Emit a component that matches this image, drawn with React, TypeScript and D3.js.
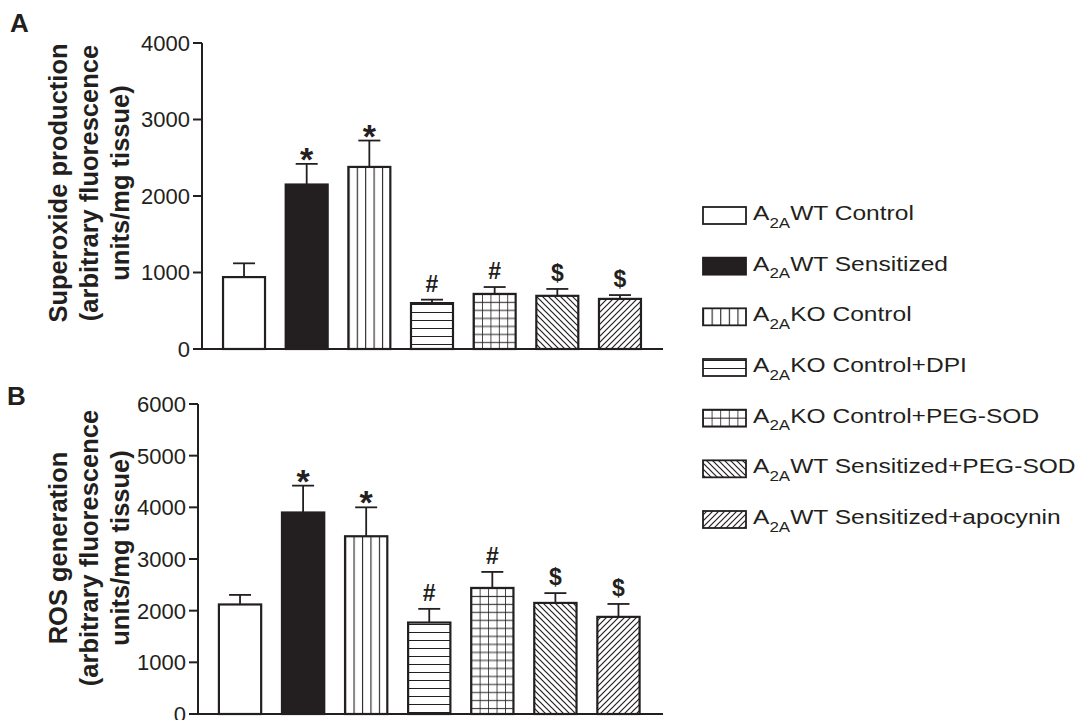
import React from "react";
import * as d3 from "d3";

// groups, in bar order
const groupRest = [
  "WT Control",
  "WT Sensitized",
  "KO Control",
  "KO Control+DPI",
  "KO Control+PEG-SOD",
  "WT Sensitized+PEG-SOD",
  "WT Sensitized+apocynin",
];
const groupFill = ["white", "solid", "vlines", "hlines", "grid", "diagDown", "diagUp"];

// panel A: superoxide production
const superoxideMean = [940, 2150, 2380, 600, 720, 695, 655];
const superoxideSem = [180, 270, 345, 45, 90, 90, 50];
const superoxideMarks = ["", "*", "*", "#", "#", "$", "$"];
const superoxideTicks = [0, 1000, 2000, 3000, 4000];

// panel B: ROS generation
const rosMean = [2120, 3900, 3440, 1770, 2440, 2150, 1880];
const rosSem = [185, 520, 560, 265, 310, 190, 250];
const rosMarks = ["", "*", "*", "#", "#", "$", "$"];
const rosTicks = [0, 1000, 2000, 3000, 4000, 5000, 6000];

const INK = "#231f20";
const FONT = "'Liberation Sans', Arial, Helvetica, sans-serif";

function fillFor(kind) {
  if (kind === "white") return "#fff";
  if (kind === "solid") return INK;
  return `url(#p-${kind})`;
}

function Patterns() {
  return (
    <defs>
      <pattern id="p-vlines" patternUnits="objectBoundingBox" width="0.2" height="1">
        <rect width="100" height="1000" fill="#fff" />
        <line x1="0" y1="0" x2="0" y2="1000" stroke={INK} strokeWidth="2.2" />
      </pattern>
      <pattern id="p-hlines" patternUnits="userSpaceOnUse" width="10" height="8">
        <rect width="10" height="8" fill="#fff" />
        <line x1="0" y1="0" x2="10" y2="0" stroke={INK} strokeWidth="2" />
      </pattern>
      <pattern id="p-grid" patternUnits="objectBoundingBox" width="0.2" height="1">
        <rect width="100" height="1000" fill="url(#p-hlines)" />
        <line x1="0" y1="0" x2="0" y2="1000" stroke={INK} strokeWidth="1.6" />
      </pattern>
      <pattern id="p-diagDown" patternUnits="userSpaceOnUse" width="6" height="6">
        <rect width="6" height="6" fill="#fff" />
        <path d="M0,0L6,6M-3,3L3,9M3,-3L9,3" stroke={INK} strokeWidth="1.2" />
      </pattern>
      <pattern id="p-diagUp" patternUnits="userSpaceOnUse" width="6" height="6">
        <rect width="6" height="6" fill="#fff" />
        <path d="M0,6L6,0M-3,3L3,-3M3,9L9,3" stroke={INK} strokeWidth="1.2" />
      </pattern>
    </defs>
  );
}

function Panel({ letter, letterX, letterY, axisX, xEnd, band, yTop, yBottom, ticks, means, sems, marks, titleLines, titleY }) {
  const x = d3
    .scaleBand()
    .domain(groupRest)
    .range(band)
    .paddingInner(0.33)
    .paddingOuter(0.165);
  const y = d3
    .scaleLinear()
    .domain([0, d3.max(ticks)])
    .range([yBottom, yTop]);
  const bw = x.bandwidth();
  const capW = 22;

  return (
    <g>
      <text x={letterX} y={letterY} fontSize="26" fontWeight="bold" fill={INK}>{letter}</text>

      {titleLines.map((t, i) => (
        <text
          key={i}
          transform={`translate(${67 + i * 31},${titleY}) rotate(-90)`}
          textAnchor="middle"
          fontSize="25.5"
          fontWeight="bold"
          fill={INK}
        >
          {t}
        </text>
      ))}

      {/* y axis */}
      <line x1={axisX} x2={axisX} y1={y(d3.max(ticks))} y2={yBottom} stroke={INK} strokeWidth="2" />
      {ticks.map((t) => (
        <g key={t}>
          <line x1={axisX - 9} x2={axisX} y1={y(t)} y2={y(t)} stroke={INK} strokeWidth="2" />
          <text x={axisX - 12} y={y(t)} dy="0.36em" textAnchor="end" fontSize="22" fill={INK}>
            {t}
          </text>
        </g>
      ))}

      {/* bars */}
      {groupRest.map((g, i) => {
        const cx = x(g) + bw / 2;
        const top = y(means[i]);
        const cap = y(means[i] + sems[i]);
        const m = marks[i];
        return (
          <g key={g}>
            <line x1={cx} x2={cx} y1={top} y2={cap} stroke={INK} strokeWidth="1.8" />
            <line x1={cx - capW / 2} x2={cx + capW / 2} y1={cap} y2={cap} stroke={INK} strokeWidth="1.8" />
            <rect
              x={x(g)}
              y={top}
              width={bw}
              height={yBottom - top}
              fill={fillFor(groupFill[i])}
              stroke={INK}
              strokeWidth="2.2"
            />
            {m === "*" ? (
              <text x={cx} y={cap + 7} textAnchor="middle" fontSize="34" fontWeight="bold" fill={INK}>*</text>
            ) : m ? (
              <text x={cx} y={cap - 8} textAnchor="middle" fontSize="23" fontWeight="bold" fill={INK}>{m}</text>
            ) : null}
          </g>
        );
      })}

      {/* x axis */}
      <line x1={axisX - 1} x2={xEnd} y1={yBottom} y2={yBottom} stroke={INK} strokeWidth="2" />
    </g>
  );
}

function Legend() {
  const rowY = d3.scaleLinear().domain([0, groupRest.length - 1]).range([215.5, 519.5]);
  return (
    <g>
      {groupRest.map((g, i) => {
        const cy = rowY(i);
        return (
          <g key={g}>
            <rect x={703} y={cy - 8.5} width={43} height={17} fill={fillFor(groupFill[i])} stroke={INK} strokeWidth="1.8" />
            <text transform={`translate(753,${cy + 4.5}) scale(1.17,1)`} fontSize="21" fill={INK}>
              <tspan>A</tspan>
              <tspan fontSize="14.5" dy="7.5">2A</tspan>
              <tspan dy="-7.5">{g}</tspan>
            </text>
          </g>
        );
      })}
    </g>
  );
}

export default function App() {
  return (
    <svg
      width={1090}
      height={720}
      style={{ position: "absolute", left: 0, top: 0, background: "#fff", fontFamily: FONT }}
    >
      <Patterns />
      <rect width="1090" height="720" fill="#fff" />
      <Panel
        letter="A"
        letterX={10}
        letterY={32}
        axisX={202}
        xEnd={663}
        band={[212.7, 651.3]}
        yTop={43}
        yBottom={349}
        ticks={superoxideTicks}
        means={superoxideMean}
        sems={superoxideSem}
        marks={superoxideMarks}
        titleLines={["Superoxide production", "(arbitrary fluorescence", "units/mg tissue)"]}
        titleY={183}
      />
      <Panel
        letter="B"
        letterX={7}
        letterY={405}
        axisX={198}
        xEnd={663}
        band={[208.5, 650]}
        yTop={404}
        yBottom={714}
        ticks={rosTicks}
        means={rosMean}
        sems={rosSem}
        marks={rosMarks}
        titleLines={["ROS generation", "(arbitrary fluorescence", "units/mg tissue)"]}
        titleY={548}
      />
      <Legend />
    </svg>
  );
}
